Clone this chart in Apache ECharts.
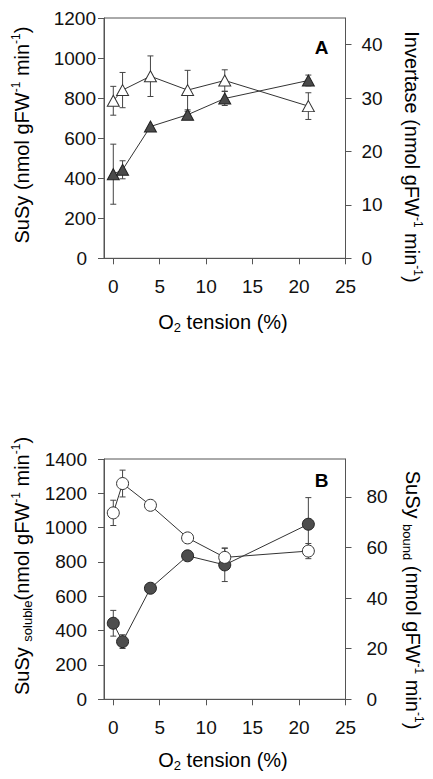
<!DOCTYPE html>
<html><head><meta charset="utf-8">
<script src="https://cdn.jsdelivr.net/npm/echarts@6/dist/echarts.min.js"></script>
<style>html,body{margin:0;padding:0;background:#fff}#c{width:433px;height:779px}</style>
</head><body><div id="c"></div>
<script>
// ---- data ----
const o2 = [0, 1, 4, 8, 12, 21];
const xTicks = [0, 5, 10, 15, 20, 25];
// Panel A
const susyA = [420, 442, 658, 717, 798, 888];
const susyAErr = [150, 45, 0, 17, 35, 27];
const invA = [29.5, 31.5, 34.1, 31.5, 33.3, 28.5];
const invAErr = [2.7, 3.3, 3.8, 3.7, 2.0, 2.5];
const rightTicksA = [0, 10, 20, 30, 40];
// Panel B
const solB = [443, 336, 647, 836, 783, 1020];
const solBErr = [75, 40, 0, 0, 97, 155];
const boundB = [73.7, 85.3, 76.7, 63.8, 56.1, 58.6];
const boundBErr = [5, 5.3, 0, 0, 3.7, 3];
const rightTicksB = [0, 20, 40, 60, 80];

const FONT = '"Liberation Sans", Arial, Helvetica, sans-serif';
const AX = '#555';
const TXT = '#111';
const TICKFS = 19;

function pts(xs, ys) { return xs.map((x, i) => [x, ys[i]]); }
function errPts(xs, ys, es) { return xs.map((x, i) => [x, ys[i], es[i]]); }

function errRender(params, api) {
  const x = api.value(0), y = api.value(1), e = api.value(2);
  if (!e) return null;
  const t = api.coord([x, y + e]), b = api.coord([x, y - e]);
  const w = 3;
  const st = { stroke: '#444', lineWidth: 1 };
  return { type: 'group', children: [
    { type: 'line', shape: { x1: t[0], y1: t[1], x2: b[0], y2: b[1] }, style: st },
    { type: 'line', shape: { x1: t[0] - w, y1: t[1], x2: t[0] + w, y2: t[1] }, style: st },
    { type: 'line', shape: { x1: b[0] - w, y1: b[1], x2: b[0] + w, y2: b[1] }, style: st }
  ]};
}

function xAxis(gi) {
  return {
    type: 'value', gridIndex: gi, min: -1, max: 25,
    axisLine: { show: true, onZero: false, lineStyle: { color: AX } },
    axisTick: { show: true, length: 6, customValues: xTicks, lineStyle: { color: AX } },
    axisLabel: { customValues: xTicks, fontSize: TICKFS, margin: 19, color: TXT, fontFamily: FONT },
    splitLine: { show: false }
  };
}
function leftAxis(gi, max, margin) {
  return {
    type: 'value', gridIndex: gi, position: 'left', min: 0, max: max, interval: 200,
    axisLine: { show: true, onZero: false, lineStyle: { color: AX } },
    axisTick: { show: true, length: 6, lineStyle: { color: AX } },
    axisLabel: { fontSize: TICKFS, margin: margin, color: TXT, fontFamily: FONT,
      formatter: v => v === 0 ? '{z|0}' : String(v),
      rich: { z: { fontSize: TICKFS, fontFamily: FONT, color: TXT, padding: [0, margin < 12 ? 9 : 0, 0, 0] } } },
    splitLine: { show: false }
  };
}
function rightAxis(gi, max, ticks, margin) {
  return {
    type: 'value', gridIndex: gi, position: 'right', min: 0, max: max,
    axisLine: { show: true, onZero: false, lineStyle: { color: AX } },
    axisTick: { show: true, length: 6, customValues: ticks, lineStyle: { color: AX } },
    axisLabel: { customValues: ticks, fontSize: TICKFS, margin: margin, color: TXT, fontFamily: FONT },
    splitLine: { show: false }
  };
}

const richT = {
  m: { fontSize: 20, fontFamily: FONT, color: TXT, lineHeight: 24 },
  sup: { fontSize: 12, fontFamily: FONT, color: TXT, verticalAlign: 'top', lineHeight: 14 },
  sub: { fontSize: 13, fontFamily: FONT, color: TXT, verticalAlign: 'bottom', lineHeight: 14 }
};
function title(x, y, rot, text) {
  return { type: 'text', x: x, y: y, rotation: rot, z: 10,
    style: { text: text, rich: richT, align: 'center', verticalAlign: 'middle' } };
}

const chart = echarts.init(document.getElementById('c'), null, { renderer: 'svg' });
chart.setOption({
  backgroundColor: '#fff',
  animation: false,
  grid: [
    { left: 104, top: 18, width: 241.5, height: 240.3, show: true, borderColor: AX, borderWidth: 1, containLabel: false },
    { left: 104, top: 459, width: 241.5, height: 240.3, show: true, borderColor: AX, borderWidth: 1, containLabel: false }
  ],
  xAxis: [xAxis(0), xAxis(1)],
  yAxis: [
    leftAxis(0, 1200, 8),
    rightAxis(0, 45, rightTicksA, 16),
    leftAxis(1, 1400, 17),
    rightAxis(1, 95, rightTicksB, 21)
  ],
  series: [
    { type: 'custom', xAxisIndex: 0, yAxisIndex: 0, renderItem: errRender, data: errPts(o2, susyA, susyAErr), z: 1, encode: { x: 0, y: 1 } },
    { type: 'custom', xAxisIndex: 0, yAxisIndex: 1, renderItem: errRender, data: errPts(o2, invA, invAErr), z: 1, encode: { x: 0, y: 1 } },
    { type: 'custom', xAxisIndex: 1, yAxisIndex: 2, renderItem: errRender, data: errPts(o2, solB, solBErr), z: 1, encode: { x: 0, y: 1 } },
    { type: 'custom', xAxisIndex: 1, yAxisIndex: 3, renderItem: errRender, data: errPts(o2, boundB, boundBErr), z: 1, encode: { x: 0, y: 1 } },
    { name: 'SuSy', type: 'line', xAxisIndex: 0, yAxisIndex: 0, data: pts(o2, susyA), z: 3,
      symbol: 'triangle', symbolSize: [12, 11], lineStyle: { color: '#333', width: 1 },
      itemStyle: { color: '#4a4a4a', borderColor: '#222', borderWidth: 1 } },
    { name: 'Invertase', type: 'line', xAxisIndex: 0, yAxisIndex: 1, data: pts(o2, invA), z: 3,
      symbol: 'triangle', symbolSize: [12, 11], lineStyle: { color: '#333', width: 1 },
      itemStyle: { color: '#fff', borderColor: '#333', borderWidth: 1 } },
    { name: 'SuSy soluble', type: 'line', xAxisIndex: 1, yAxisIndex: 2, data: pts(o2, solB), z: 3,
      symbol: 'circle', symbolSize: 12, lineStyle: { color: '#333', width: 1 },
      itemStyle: { color: '#4d4d4d', borderColor: '#222', borderWidth: 1 } },
    { name: 'SuSy bound', type: 'line', xAxisIndex: 1, yAxisIndex: 3, data: pts(o2, boundB), z: 3,
      symbol: 'circle', symbolSize: 12, lineStyle: { color: '#333', width: 1 },
      itemStyle: { color: '#fff', borderColor: '#333', borderWidth: 1 } }
  ],
  graphic: [
    { type: 'text', x: 321.5, y: 47, z: 10, style: { text: 'A', font: 'bold 19px ' + FONT, fill: '#000', align: 'center', verticalAlign: 'middle' } },
    { type: 'text', x: 321.5, y: 480, z: 10, style: { text: 'B', font: 'bold 19px ' + FONT, fill: '#000', align: 'center', verticalAlign: 'middle' } },
    title(22, 135, Math.PI / 2, '{m|SuSy (nmol gFW}{sup|-1}{m| min}{sup|-1}{m|)}'),
    title(411.5, 157, -Math.PI / 2, '{m|Invertase (nmol gFW}{sup|-1}{m| min}{sup|-1}{m|)}'),
    title(223, 322, 0, '{m|O}{sub|2}{m| tension (%)}'),
    title(22, 566, Math.PI / 2, '{m|SuSy }{sub|soluble}{m|(nmol gFW}{sup|-1}{m| min}{sup|-1}{m|)}'),
    title(413, 600, -Math.PI / 2, '{m|SuSy }{sub|bound}{m| (nmol gFW}{sup|-1}{m| min}{sup|-1}{m|)}'),
    title(223, 760, 0, '{m|O}{sub|2}{m| tension (%)}')
  ]
});
</script>
</body></html>
